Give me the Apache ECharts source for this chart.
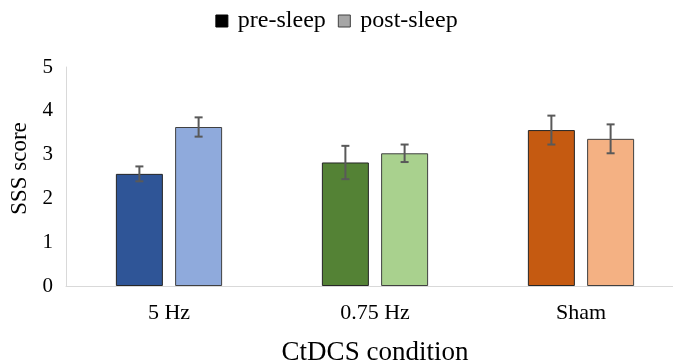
<!DOCTYPE html>
<html><head><meta charset="utf-8">
<script src="https://cdn.jsdelivr.net/npm/echarts@6/dist/echarts.min.js"></script>
<style>html,body{margin:0;padding:0;background:#fff}#c{width:673px;height:363px}</style>
</head><body><div id="c"></div>
<script>
const categories = ['5 Hz', '0.75 Hz', 'Sham'];
const preValues = [2.56, 2.82, 3.56];
const postValues = [3.63, 3.03, 3.36];
const preErr = [0.17, 0.38, 0.33];
const postErr = [0.22, 0.20, 0.33];
const preColors = ['#2F5597', '#548235', '#C55A11'];
const postColors = ['#8FAADC', '#A9D18E', '#F4B183'];
const yTicks = [0, 1, 2, 3, 4, 5];

const FONT = '"Liberation Serif", "DejaVu Serif", serif';
const BW = 47, GAP = 0.26;
const chart = echarts.init(document.getElementById('c'));

function errSeries(vals, errs, sign) {
  return {
    type: 'custom', silent: true, z: 5,
    data: vals.map((v, i) => [i, v - errs[i], v + errs[i]]),
    renderItem: function (params, api) {
      const c = api.value(0);
      const lo = api.coord([c, api.value(1)]);
      const hi = api.coord([c, api.value(2)]);
      const x = lo[0] + sign * (BW + BW * GAP) / 2;
      const hw = 4;
      const st = { stroke: '#595959', lineWidth: 2 };
      return { type: 'group', children: [
        { type: 'line', shape: { x1: x, y1: hi[1], x2: x, y2: lo[1] }, style: st },
        { type: 'line', shape: { x1: x - hw, y1: hi[1], x2: x + hw, y2: hi[1] }, style: st },
        { type: 'line', shape: { x1: x - hw, y1: lo[1], x2: x + hw, y2: lo[1] }, style: st }
      ]};
    }
  };
}

const legendText = { fontFamily: FONT, fontSize: 24, color: '#000',
  rich: { t: { fontFamily: FONT, fontSize: 24, color: '#000', padding: [0, 0, 0, 5] } } };

chart.setOption({
  animation: false,
  textStyle: { fontFamily: FONT },
  legend: {
    top: 4, left: 'center', itemWidth: 12, itemHeight: 12, itemGap: 12,
    formatter: '{t|{name}}',
    textStyle: legendText,
    data: [
      { name: 'pre-sleep', icon: 'rect', itemStyle: { color: '#000', borderColor: '#000', borderWidth: 1 } },
      { name: 'post-sleep', icon: 'rect', itemStyle: { color: '#A6A6A6', borderColor: '#404040', borderWidth: 1 } }
    ]
  },
  grid: { left: 66, top: 67, width: 618, height: 219, outerBoundsMode: 'none' },
  xAxis: {
    type: 'category', data: categories,
    axisLine: { lineStyle: { color: '#D9D9D9', width: 1 } },
    axisTick: { show: false },
    axisLabel: { fontFamily: FONT, fontSize: 22, color: '#000', margin: 16 },
    name: 'CtDCS condition', nameLocation: 'middle', nameGap: 53,
    nameTextStyle: { fontFamily: FONT, fontSize: 27, color: '#000' }
  },
  yAxis: {
    type: 'value', min: 0, max: 5, interval: 1,
    axisLine: { show: true, lineStyle: { color: '#D9D9D9', width: 1 } },
    axisTick: { show: false },
    splitLine: { show: false },
    axisLabel: { fontFamily: FONT, fontSize: 21, color: '#000', margin: 13,
      formatter: v => yTicks.includes(v) ? String(v) : '' },
    name: 'SSS score', nameLocation: 'middle', nameGap: 33,
    nameTextStyle: { fontFamily: FONT, fontSize: 23, color: '#000', padding: [0, 0, 0, 16] }
  },
  series: [
    { name: 'pre-sleep', type: 'bar', barWidth: BW, barGap: (GAP * 100) + '%',
      itemStyle: { color: '#000', borderColor: '#262626', borderWidth: 1 },
      data: preValues.map((v, i) => ({ value: v, itemStyle: { color: preColors[i], borderColor: '#262626', borderWidth: 1 } })) },
    { name: 'post-sleep', type: 'bar', barWidth: BW, barGap: (GAP * 100) + '%',
      itemStyle: { color: '#A6A6A6', borderColor: '#404040', borderWidth: 1 },
      data: postValues.map((v, i) => ({ value: v, itemStyle: { color: postColors[i], borderColor: '#404040', borderWidth: 1 } })) },
    errSeries(preValues, preErr, -1),
    errSeries(postValues, postErr, 1)
  ]
});
</script></body></html>
